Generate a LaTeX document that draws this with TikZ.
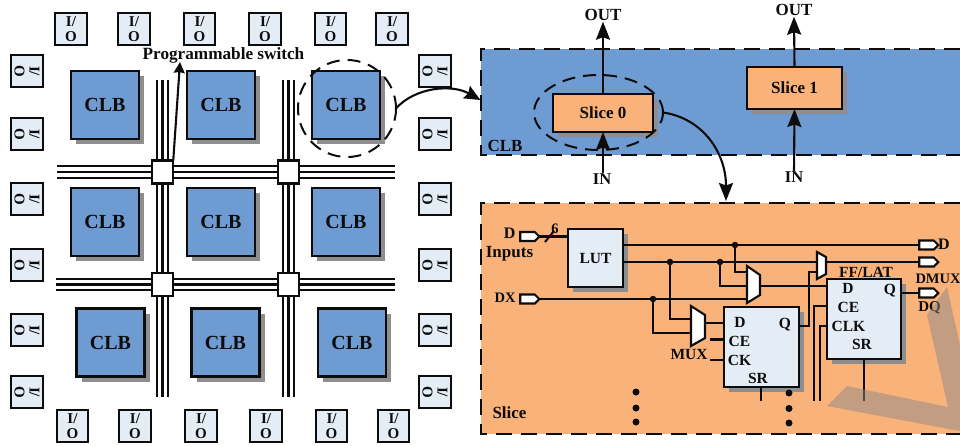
\documentclass[tikz,border=0pt]{standalone}
\usepackage{fontspec}
\setmainfont{Liberation Serif}
\usetikzlibrary{arrows.meta,shapes.geometric,shapes.symbols,shadows,calc}
\definecolor{clbblue}{HTML}{6F9BD3}
\definecolor{sliceorange}{HTML}{F9B27A}
\definecolor{paleblue}{HTML}{E4ECF6}
\definecolor{shadowgray}{HTML}{8E8E8E}
\definecolor{inkblack}{HTML}{0C0C0C}
\definecolor{markgray}{HTML}{8C8A88}
\newcommand{\fsz}[1]{\fontsize{#1}{#1}\selectfont\bfseries}
\tikzset{
  wire/.style={draw=inkblack,line width=2.1pt},
  arrowwire/.style={wire,-{Stealth[length=18pt,width=14pt,inset=2.5pt]}},
  shadowed/.style={general shadow={fill=shadowgray,shadow xshift=5pt,shadow yshift=-5pt}},
  boxbase/.style={draw=inkblack,line width=2.4pt,inner sep=0pt,outer sep=0pt,text=inkblack},
  iobox/.style={boxbase,fill=paleblue,minimum width=31.5pt,minimum height=31.5pt,align=center,font=\fontsize{15}{15}\selectfont\bfseries},
  clbbox/.style={boxbase,fill=clbblue,shadowed,minimum width=68pt,minimum height=68pt,font=\fsz{20}},
  slicebox/.style={boxbase,fill=sliceorange,shadowed,font=\fsz{17}},
  lightbox/.style={boxbase,fill=paleblue,shadowed},
  switchbox/.style={boxbase,fill=white,minimum width=21.5pt,minimum height=23pt},
  lab/.style={inner sep=0pt,outer sep=0pt,text=inkblack,font=\fsz{#1}},
  lab/.default=15.5,
  pin/.style={draw=inkblack,line width=2.1pt,fill=white,shape=signal,signal to=east,signal pointer angle=90,minimum width=19pt,minimum height=9pt,inner sep=0pt,outer sep=0pt},
  jdot/.style={circle,fill=inkblack,minimum size=6.5pt,inner sep=0pt,outer sep=0pt},
  edot/.style={circle,fill=inkblack,minimum size=7pt,inner sep=0pt,outer sep=0pt},
  dashring/.style={ellipse,draw=inkblack,line width=2pt,dash pattern=on 13pt off 8pt,inner sep=0pt,outer sep=0pt},
  dashband/.style={draw=inkblack,line width=2pt,dash pattern=on 16pt off 9pt},
  muxshape/.style={draw=inkblack,line width=2.1pt,fill=white,line join=miter},
}
\begin{document}
\begin{tikzpicture}[x=1pt,y=-1pt]
\useasboundingbox (0,0) rectangle (960,445);
% bands
\node[minimum width=479pt,minimum height=106pt,fill=clbblue,inner sep=0pt,outer sep=0pt] (clbband) at (720.5,102) {};
\node[minimum width=479pt,minimum height=231pt,fill=sliceorange,inner sep=0pt,outer sep=0pt] (sliceband) at (720.5,318.5) {};
\draw[dashband] (clbband.north east) -- (clbband.north west) -- (clbband.south west) -- (clbband.south east);
\draw[dashband] (sliceband.north east) -- (sliceband.north west) -- (sliceband.south west) -- (sliceband.south east);
% I/O
\foreach \n/\x in {1/71,2/134,3/199.5,4/265,5/330.5,6/392}
  \node[iobox] (iot\n) at (\x,29) {I/\\O};
\foreach \n/\x in {1/72.5,2/135,3/201,4/266,5/331.5,6/393.5}
  \node[iobox] (iob\n) at (\x,426) {I/\\O};
\foreach \n/\y in {1/71,2/134,3/199,4/265,5/330,6/392} {
  \node[iobox,rotate=-90] (iol\n) at (27,\y) {I/\\O};
  \node[iobox,rotate=-90] (ior\n) at (435,\y) {I/\\O};
}
% CLB grid
\foreach \n/\x/\y in {11/105/105,12/221/105,13/346/105,21/105/222,22/221/222,23/346/222,31/110.5/342.5,32/225.5/342.5,33/352/342.5}
  \node[clbbox] (clb\n) at (\x,\y) {CLB};
% switches
\node[switchbox] (sw11) at (162.5,172) {};
\node[switchbox] (sw12) at (288.5,172) {};
\node[switchbox] (sw21) at (162.5,284.5) {};
\node[switchbox] (sw22) at (288.5,284.5) {};
\coordinate (htl) at (57,172);
\coordinate (htr) at (395,172);
\coordinate (hbl) at (56,284.5);
\coordinate (hbr) at (395,284.5);
\coordinate (vlt) at (162.5,80);
\coordinate (vlb) at (162.5,397);
\coordinate (vrt) at (288.5,80);
\coordinate (vrb) at (288.5,397);
\foreach \d in {-5.7,0,5.7} {
  \draw[wire] ([yshift=\d pt]htl) -- ([yshift=\d pt]sw11.west);
  \draw[wire] ([yshift=\d pt]sw11.east) -- ([yshift=\d pt]sw12.west);
  \draw[wire] ([yshift=\d pt]sw12.east) -- ([yshift=\d pt]htr);
  \draw[wire] ([yshift=\d pt]hbl) -- ([yshift=\d pt]sw21.west);
  \draw[wire] ([yshift=\d pt]sw21.east) -- ([yshift=\d pt]sw22.west);
  \draw[wire] ([yshift=\d pt]sw22.east) -- ([yshift=\d pt]hbr);
  \draw[wire] ([xshift=\d pt]vlt) -- ([xshift=\d pt]sw11.north);
  \draw[wire] ([xshift=\d pt]sw11.south) -- ([xshift=\d pt]sw21.north);
  \draw[wire] ([xshift=\d pt]sw21.south) -- ([xshift=\d pt]vlb);
  \draw[wire] ([xshift=\d pt]vrt) -- ([xshift=\d pt]sw12.north);
  \draw[wire] ([xshift=\d pt]sw12.south) -- ([xshift=\d pt]sw22.north);
  \draw[wire] ([xshift=\d pt]sw22.south) -- ([xshift=\d pt]vrb);
}
% Programmable switch label
\node[lab=17.2] (proglab) at (223.5,55) {Programmable switch};
\coordinate (progtip) at (180,62);
\draw[wire,-{Stealth[length=11pt,width=11pt,inset=1pt]}] (sw11.north east) -- (progtip);
% selection rings
\node[dashring,minimum width=98pt,minimum height=97pt] (ringclb) at (347,108.5) {};
\coordinate (clbin) at (480.5,100);
\draw[wire,-{Stealth[length=16pt,width=14pt,inset=2pt]}] (ringclb.east) .. controls (415,87) and (452,84) .. (clbin);
% slices
\node[slicebox,minimum width=100pt,minimum height=38pt] (slice0) at (603,113) {Slice 0};
\node[slicebox,minimum width=95pt,minimum height=42pt] (slice1) at (794.5,88) {Slice 1};
\node[dashring,minimum width=129pt,minimum height=75pt] (ringslice) at (598.5,112.5) {};
\node[lab=17] (out0) at (603,15) {OUT};
\node[lab=17] (out1) at (794,10) {OUT};
\node[lab=16.5] (in0) at (602,179) {IN};
\node[lab=16.5] (in1) at (794,177) {IN};
\draw[arrowwire] (slice0.north) -- ($(out0.south)+(0,1)$);
\draw[arrowwire] (slice1.north) -- ($(out1.south)+(0,1)$);
\draw[arrowwire] ($(in0.north)+(1,-1)$) -- (slice0.south);
\draw[arrowwire] (in1.north) -- (slice1.south);
\node[lab=17] (clbtag) at (505,146) {CLB};
\coordinate (slicein) at (726,201);
\draw[wire,-{Stealth[length=18pt,width=14pt,inset=2.5pt]}] (ringslice.east) .. controls (702,118) and (726,152) .. (slicein);
% slice detail
\node[lab=17] (slicetag) at (509.5,413) {Slice};
\node[lightbox,minimum width=55pt,minimum height=58pt,font=\fsz{15.5}] (lut) at (595.5,258) {LUT};
\node[lightbox,minimum width=75pt,minimum height=80pt] (ff1) at (761.5,347) {};
\node[lightbox,minimum width=74pt,minimum height=80pt] (ff2) at (864,319) {};
\node[pin] (pind) at (527.5,236.5) {};
\node[pin] (pindx) at (527.5,299) {};
\node[pin] (pouta) at (926.5,245) {};
\node[pin] (poutb) at (926.5,262) {};
\node[pin] (poutq) at (926.5,293) {};
\node[lab=16,anchor=east] (dlab) at (515.5,233) {D};
\node[lab=17] (inputslab) at (509.5,254) {Inputs};
\node[lab=14.5,anchor=east] (dxlab) at (515.5,298) {DX};
\node[lab=14.5] (sixlab) at (555,229) {6};
\node[lab=16,anchor=west] (doutlab) at (938,244) {D};
\node[lab=14.5,anchor=west] (dmuxlab) at (915.5,279) {DMUX};
\node[lab=15] (dqlab) at (929.5,308) {DQ};
\node[lab=15.5] (fflab) at (866,272) {FF/LAT};
\node[lab=15.5] (muxlab) at (689,354) {MUX};
\node[lab] (f1d) at (740,322) {D};
\node[lab] (f1q) at (785,325) {Q};
\node[lab] (f1ce) at (739.5,341) {CE};
\node[lab] (f1ck) at (739.5,360) {CK};
\node[lab] (f1sr) at (758,378) {SR};
\node[lab] (f2d) at (848,288) {D};
\node[lab] (f2q) at (890,291) {Q};
\node[lab] (f2ce) at (848.5,307) {CE};
\node[lab] (f2clk) at (848.5,326) {CLK};
\node[lab] (f2sr) at (862,344) {SR};
% muxes
\coordinate (m1a) at (691,319);\coordinate (m1b) at (691,333);\coordinate (m1o) at (705,323);
\coordinate (m2a) at (747,272);\coordinate (m2c) at (747,286);\coordinate (m2b) at (747,299);\coordinate (m2o) at (760,286);
\coordinate (m3a) at (817,262);\coordinate (m3b) at (817,272);\coordinate (m3o) at (826,262);
% junctions
\node[jdot] (ja) at (735,245) {};
\node[jdot] (jb) at (720,262) {};
\node[jdot] (jc) at (670,262) {};
\node[jdot] (jd) at (653,299) {};
% wires
\coordinate (luta) at (623,245);
\coordinate (lutb) at (623,262);
\draw[wire] (pind.east) -- (lut.west |- pind.east);
\coordinate (slasha) at (545,242);
\coordinate (slashb) at (554,231);
\draw[wire] (slasha) -- (slashb);
\draw[wire] (luta) -- (ja) -- (pouta.west);
\draw[wire] (lutb) -- (jc) -- (jb) -- (m3a);
\draw[wire] (m3o) -- (poutb.west);
\draw[wire] (pindx.east) -- (jd) -- (m2b);
\draw[wire] (jc) |- (m1a);
\draw[wire] (jd) |- (m1b);
\draw[wire] (ja) |- (m2a);
\draw[wire] (jb) |- (m2c);
\draw[wire] (m1o) -- (ff1.west |- m1o);
\draw[wire] (m2o) -- (ff2.west |- m2o);
\coordinate (q1out) at (799,326);
\coordinate (m3bend) at (809,326);
\coordinate (m3top) at (809,272);
\draw[wire] (q1out) -- (m3bend) -- (m3top) -- (m3b);
\coordinate (q2out) at (901,293);
\draw[wire] (q2out) -- (poutq.west);
\coordinate (ce1stub) at (710,339.5);
\coordinate (ck1stub) at (710,360);
\draw[wire] (ce1stub) -- (ff1.west |- ce1stub);
\draw[wire] (ck1stub) -- (ff1.west |- ck1stub);
\coordinate (sr1end) at (761,401);
\coordinate (sr2end) at (864,401);
\draw[wire] (ff1.south -| sr1end) -- (sr1end);
\draw[wire] (ff2.south -| sr2end) -- (sr2end);
\coordinate (ce2end) at (814,401);
\coordinate (clk2end) at (820,401);
\draw[wire] (ce2end) |- (ff2.west |- 0,306);
\draw[wire] (clk2end) |- (ff2.west |- 0,326);
% mux shapes
\draw[muxshape] (691,306) -- (705,315) -- (705,338) -- (691,346) -- cycle;
\draw[muxshape] (747,266) -- (760,275) -- (760,295) -- (747,303) -- cycle;
\draw[muxshape] (817,252) -- (826,257) -- (826,274) -- (817,279) -- cycle;
% vertical dots
\node[edot] (ea1) at (636,392) {};
\node[edot] (ea2) at (636,408) {};
\node[edot] (ea3) at (636,422) {};
\node[edot] (eb1) at (789,393) {};
\node[edot] (eb2) at (789,408.5) {};
\node[edot] (eb3) at (789,423) {};
% watermark
\fill[markgray,opacity=.5] (827,406) -- (847,386) -- (948,407) -- (927,315) -- (947,287) -- (960,345) -- (960,431) -- cycle;
\end{tikzpicture}
\end{document}
